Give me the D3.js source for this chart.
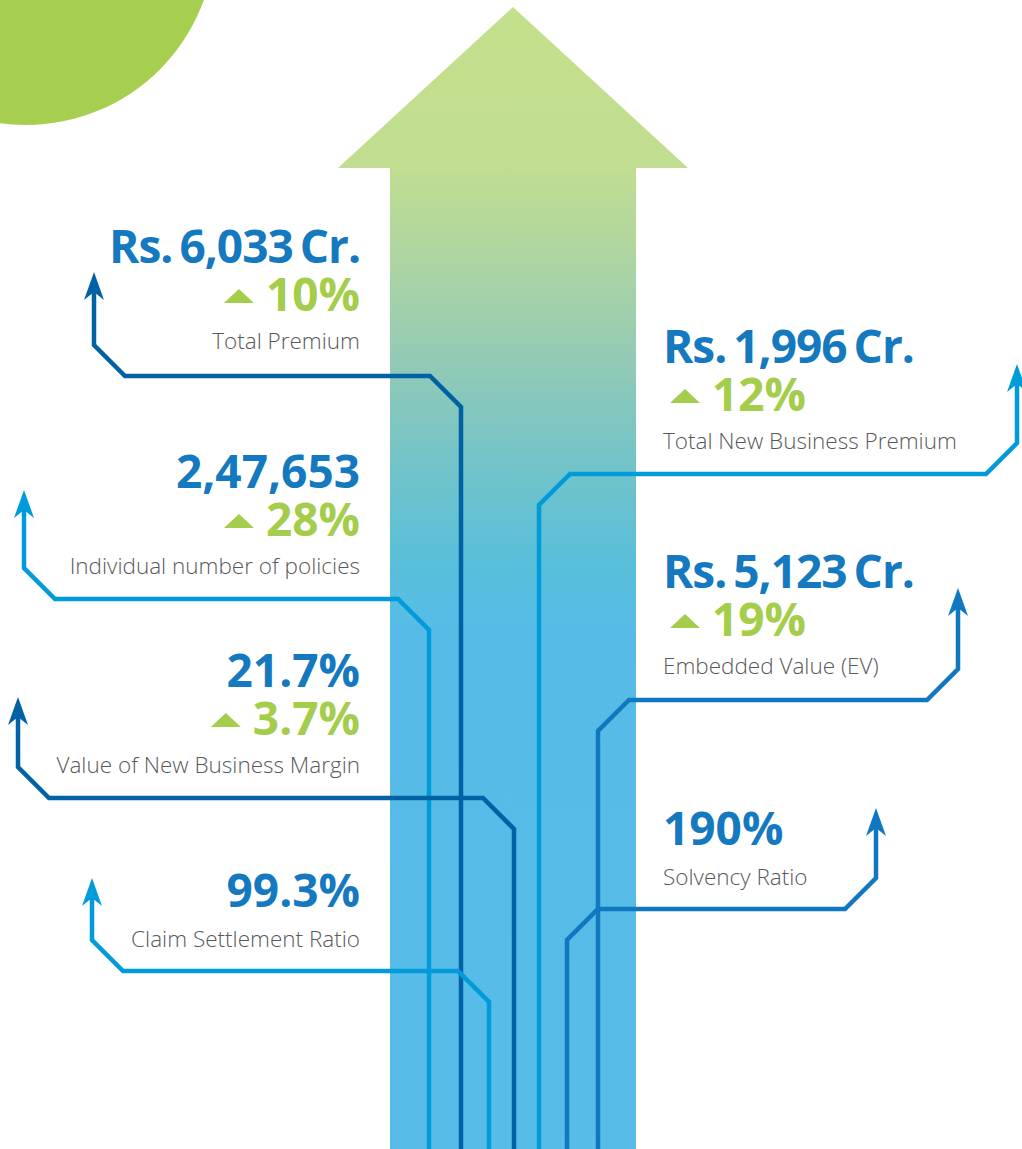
<!DOCTYPE html>
<html>
<head>
<meta charset="utf-8">
<script src="https://cdn.jsdelivr.net/npm/d3@7"></script>
<style>
  html, body { margin: 0; padding: 0; background: #fff; }
  svg { display: block; }
  .value { font-family: "Open Sans", sans-serif; font-weight: 700; }
  .label { font-family: "Open Sans", sans-serif; font-weight: 300; }
</style>
</head>
<body>
<div id="chart"></div>
<script>
// Key figures
var metrics = ["Total Premium", "Individual number of policies", "Value of New Business Margin",
               "Claim Settlement Ratio", "Total New Business Premium", "Embedded Value (EV)", "Solvency Ratio"];
var values = ["Rs. 6,033 Cr.", "2,47,653", "21.7%", "99.3%", "Rs. 1,996 Cr.", "Rs. 5,123 Cr.", "190%"];
var growth = ["10%", "28%", "3.7%", null, "12%", "19%", null];
var sides = ["left", "left", "left", "left", "right", "right", "right"];

// Layout of the circuit lines (one per metric)
var tipX = [94, 24, 18, 92, 1017, 958, 876];   // where the little arrow points up
var tipY = [272, 490, 697, 878, 364, 588, 808];
var railY = [376, 599, 798, 971, 474, 700, 909]; // horizontal run
var laneX = [461, 429, 514, 489, 539, 598, 567]; // vertical run inside the big arrow
var lineColors = ["#0062a5", "#009bdb", "#0062a5", "#009bdb", "#009bdb", "#0f78c0", "#0f78c0"];
var valueBase = [263, 488, 687, 907, 363, 588, 845];

var width = 1022;
var height = 1149;
var blue = "#1479bf";
var green = "#a3cd4b";
var grey = "#58595b";

var svg = d3.select("#chart")
  .append("svg")
  .attr("width", width)
  .attr("height", height);

// Gradient for the big arrow
var grad = svg.append("defs").append("linearGradient")
  .attr("id", "arrowGrad")
  .attr("gradientUnits", "userSpaceOnUse")
  .attr("x1", 0).attr("y1", 7).attr("x2", 0).attr("y2", height);

var gradStops = [[7, "#c5e08b"], [170, "#c0dd91"], [260, "#add5a2"], [360, "#93cab6"],
                 [470, "#71c3c9"], [560, "#5abfda"], [630, "#56bce7"], [1149, "#57bce7"]];
var gy = d3.scaleLinear().domain([7, height]).range([0, 100]);
grad.selectAll("stop")
  .data(gradStops)
  .enter()
  .append("stop")
  .attr("offset", d => gy(d[0]) + "%")
  .attr("stop-color", d => d[1]);

// Green circle in the corner
svg.append("circle")
  .attr("cx", 26).attr("cy", -64).attr("r", 189)
  .attr("fill", "#a6ce4f");

// Big arrow
var bigArrow = d3.path();
bigArrow.moveTo(513, 7);
bigArrow.lineTo(688, 168);
bigArrow.lineTo(636, 168);
bigArrow.lineTo(636, height);
bigArrow.lineTo(390, height);
bigArrow.lineTo(390, 168);
bigArrow.lineTo(338, 168);
bigArrow.closePath();
svg.append("path")
  .attr("d", bigArrow.toString())
  .attr("fill", "url(#arrowGrad)");

// Circuit lines
var bend = 31;
var headH = 28;
var lines = d3.range(metrics.length).map(i => {
  var dir = sides[i] === "left" ? 1 : -1;
  var pts = [
    [tipX[i], tipY[i] + headH - 8],
    [tipX[i], railY[i] - bend],
    [tipX[i] + dir * bend, railY[i]],
    [laneX[i] - dir * bend, railY[i]],
    [laneX[i], railY[i] + bend],
    [laneX[i], height + 5]
  ];
  return { pts: pts, color: lineColors[i], x: tipX[i], y: tipY[i] };
});

var lineGen = d3.line();
svg.selectAll("path.circuit")
  .data(lines)
  .enter()
  .append("path")
  .attr("class", "circuit")
  .attr("d", d => lineGen(d.pts))
  .attr("fill", "none")
  .attr("stroke", d => d.color)
  .attr("stroke-width", 4.5)
  .attr("stroke-linejoin", "miter");

// Arrow heads
svg.selectAll("path.head")
  .data(lines)
  .enter()
  .append("path")
  .attr("class", "head")
  .attr("d", d => "M" + d.x + "," + d.y +
    "L" + (d.x + 10) + "," + (d.y + headH) +
    "L" + d.x + "," + (d.y + headH - 8) +
    "L" + (d.x - 10) + "," + (d.y + headH) + "Z")
  .attr("fill", d => d.color);

// Text blocks
var blocks = svg.selectAll("g.block")
  .data(d3.range(metrics.length))
  .enter()
  .append("g")
  .attr("class", "block");

blocks.each(function(i) {
  var g = d3.select(this);
  var left = sides[i] === "left";
  var x = left ? 360 : 663;
  var anchor = left ? "end" : "start";
  var y = valueBase[i];
  var hasSpace = values[i].indexOf(" ") >= 0;

  g.append("text")
    .attr("class", "value")
    .attr("x", x)
    .attr("y", y)
    .attr("text-anchor", anchor)
    .attr("fill", blue)
    .style("font-size", "46px")
    .style("letter-spacing", hasSpace ? "-1px" : "0px")
    .style("word-spacing", hasSpace ? "-4px" : "0px")
    .text(values[i]);

  if (growth[i]) {
    y += 48;
    var pct = g.append("text")
      .attr("class", "value")
      .attr("y", y)
      .attr("fill", green)
      .style("font-size", "46px")
      .text(growth[i]);
    var tw = pct.node().getComputedTextLength();
    var pctX = left ? x - tw : 712;
    pct.attr("x", pctX);
    var triRight = pctX - 12;
    var tri = d3.path();
    tri.moveTo(triRight - 15, y - 22);
    tri.lineTo(triRight, y - 8);
    tri.lineTo(triRight - 30, y - 8);
    tri.closePath();
    g.append("path")
      .attr("d", tri.toString())
      .attr("fill", green);
  }

  g.append("text")
    .attr("class", "label")
    .attr("x", x)
    .attr("y", y + (growth[i] ? 38 : 40))
    .attr("text-anchor", anchor)
    .attr("fill", grey)
    .style("font-size", "22.5px")
    .text(metrics[i]);
});
</script>
</body>
</html>
